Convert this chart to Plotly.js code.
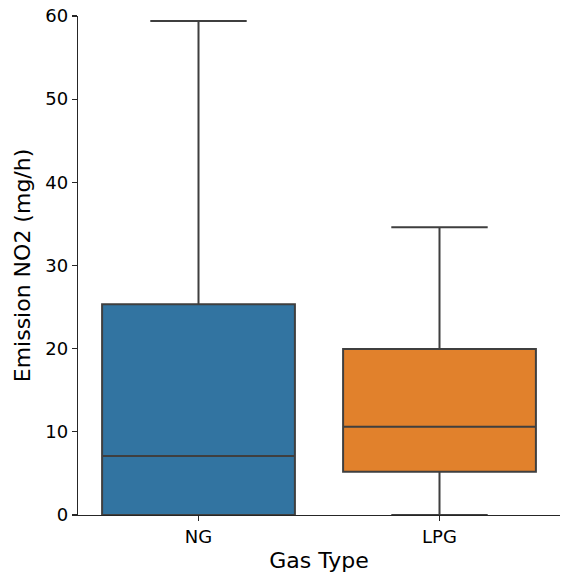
<!DOCTYPE html>
<html><head><meta charset="utf-8">
<script src="https://cdn.plot.ly/plotly-3.0.1.min.js"></script>
<style>body{margin:0;background:#fff}</style>
</head><body>
<div id="chart" style="width:561px;height:576px"></div>
<script>
const categories = ['NG', 'LPG'];
const lowerFence = [0, 0];
const q1 = [0, 5.2];
const median = [7.1, 10.6];
const q3 = [25.35, 19.97];
const upperFence = [59.4, 34.6];
const colors = ['#3274a1', '#e1812c'];

const traces = categories.map((c, i) => ({
  type: 'box',
  x: [c],
  q1: [q1[i]],
  median: [median[i]],
  q3: [q3[i]],
  lowerfence: [lowerFence[i]],
  upperfence: [upperFence[i]],
  fillcolor: colors[i],
  line: {color: '#3f3f3f', width: 2},
  width: 0.8,
  whiskerwidth: 0.5,
  boxpoints: false,
  hoverinfo: 'skip',
  showlegend: false
}));

const layout = {
  width: 561, height: 576,
  margin: {l: 78, r: 1, t: 16, b: 61},
  paper_bgcolor: '#fff', plot_bgcolor: '#fff',
  boxmode: 'overlay',
  font: {family: 'DejaVu Sans', color: '#000'},
  xaxis: {
    type: 'category',
    categoryorder: 'array', categoryarray: categories,
    range: [-0.5, 1.5],
    showline: true, linecolor: '#262626', linewidth: 1.2,
    ticks: 'outside', ticklen: 5, tickcolor: '#262626', tickwidth: 1.2,
    tickfont: {size: 18, family: 'DejaVu Sans', color: '#000'},
    showgrid: false, zeroline: false,
    title: {text: 'Gas Type', font: {size: 22, family: 'DejaVu Sans', color: '#000'}, standoff: 6}
  },
  yaxis: {
    range: [0, 60],
    tickvals: [0, 10, 20, 30, 40, 50, 60],
    showline: true, linecolor: '#262626', linewidth: 1.2,
    ticks: 'outside', ticklen: 5, tickcolor: '#262626', tickwidth: 1.2,
    tickfont: {size: 18, family: 'DejaVu Sans', color: '#000'},
    showgrid: false, zeroline: false,
    title: {text: 'Emission NO2 (mg/h)', font: {size: 22, family: 'DejaVu Sans', color: '#000'}, standoff: 8}
  }
};

Plotly.newPlot('chart', traces, layout, {staticPlot: true, displayModeBar: false});
</script>
</body></html>
